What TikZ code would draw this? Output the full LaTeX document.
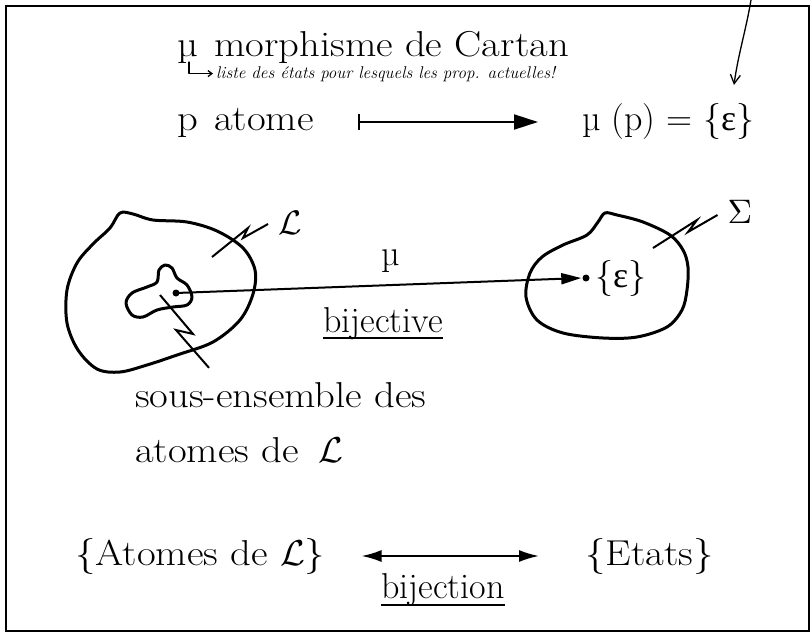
\documentclass[tikz,border=0pt]{standalone}
\usepackage{fontspec}
\setmainfont{Latin Modern Roman}
\newfontfamily\widefont{Latin Modern Roman}[FakeStretch=1.13]
\newfontfamily\gkfont{Liberation Serif}
\DeclareFontShape{OMS}{cmsy}{m}{n}{<-> cmsy10}{}
\DeclareFontShape{OT1}{cmr}{m}{n}{<-> cmr10}{}
\DeclareFontShape{OML}{cmm}{m}{it}{<-> cmmi10}{}
\usetikzlibrary{arrows.meta}
\begin{document}
\begin{tikzpicture}[x=1pt,y=-1pt,
  txt/.style={inner sep=0pt, anchor=base west, font=\fontsize{36}{40}\selectfont\widefont},
  txtp/.style={inner sep=0pt, anchor=base west, font=\fontsize{36}{40}\selectfont},
  lbl/.style={inner sep=0pt, anchor=center, font=\fontsize{34}{38}\selectfont},
  hand/.style={line width=1.3pt, line cap=round, line join=round},
  blob/.style={line width=3pt, line join=round},
  zig/.style={line width=2pt, line join=miter},
  ar/.style={line width=2pt},
  dotn/.style={circle, fill=black, inner sep=0pt, minimum size=7pt},
  uline/.style={line width=1.3pt}]
\useasboundingbox (0,0) rectangle (812,634);
% frame
\draw[line width=2.6pt] (6,6) rectangle (809,631);

% top lines
\node[txt] (cartan) at (177,57) {µ\hspace{0.45em}morphisme de Cartan};
\node[txtp, font=\fontsize{17}{19}\selectfont\itshape] (note) at (216,78)
  {liste des états pour lesquels les prop. actuelles!};
\coordinate (brk) at (189,62);
\draw[hand, -{Straight Barb[length=4pt,width=6pt]}] (brk) |- ([xshift=-3pt]note.west);

\node[txt] (p) at (177,130) {p\hspace{0.45em}atome};
\node[txtp] (mup) at (582,130) {µ (p) = \{{\gkfont ε}\}};
\draw[ar, {Bar[width=15pt]}-{Triangle[length=24pt,width=15pt]}]
  ([shift={(44,-8)}]p.base east) -- ([shift={(-44,-8)}]mup.base west);

\coordinate (topin) at (751,0);
\coordinate (toptip) at (734,85);
\draw[hand, -{Straight Barb[length=9pt,width=10pt]}] (topin) .. controls (746,30) and (738,55) .. (toptip);

% left blob
\draw[blob] plot[smooth cycle, tension=0.55] coordinates {
  (120,213) (133,214) (153,220) (187,222) (217,231) (243,248) (255,270)
  (253,294) (240,320) (213,342) (177,355) (147,365) (120,372) (97,369)
  (78,350) (67,323) (67,290) (77,263) (93,244) (110,228)};
% inner blob
\draw[blob] plot[smooth cycle, tension=0.55] coordinates {
  (126,303) (132,293) (147,287) (157,282) (159,270) (165,265) (172,268)
  (177,278) (187,285) (192,297) (187,305) (173,307) (157,310) (143,317)
  (132,315)};
\node[dotn] (d1) at (176,293) {};

% right blob
\draw[blob] plot[smooth cycle, tension=0.55] coordinates {
  (605,213) (617,215) (643,222) (670,235) (683,250) (688,267) (687,290)
  (682,310) (667,327) (637,337) (603,338) (563,333) (537,320) (526,297)
  (530,273) (542,257) (563,245) (587,235) (598,222)};
\node[dotn] (d2) at (586,278) {};
\node[txtp] (eps) at (595,287) {\{{\gkfont ε}\}};

% mu arrow
\draw[ar, -{Triangle[length=20pt,width=11pt]}, shorten >=1pt] (d1.center) -- (d2.west);
\node[txtp] (mulab) at (381,265) {µ};
\node[txtp] (bij) at (323,332) {bijective};
\draw[uline] ([yshift=-6pt]bij.base west) -- ([yshift=-6pt]bij.base east);

% labels with lightning connectors
\node[lbl] (Llab) at (290,223) {$\mathcal{L}$};
\draw[zig] (212,257) -- (248,228) -- (243,238) -- ([xshift=-10pt,yshift=-1pt]Llab.west);
\node[lbl] (Slab) at (740,212) {$\Sigma$};
\draw[zig] (653,248) -- (697,220) -- (688,232) -- ([xshift=-10pt,yshift=-3pt]Slab.west);

\node[txt] (sous) at (135,407) {sous-ensemble des};
\node[txt] (atL) at (135,462) {atomes de\hspace{0.55em}$\mathcal{L}$};
\draw[zig] (160,295) -- (193,334) -- (176,330) -- ([xshift=74pt,yshift=14pt]sous.north west);

% bottom
\node[txt] (atomes) at (75,565) {\{Atomes de $\mathcal{L}$\}};
\node[txt] (etats) at (585,565) {\{Etats\}};
\draw[ar, {Latex[length=20pt,width=12pt]}-{Latex[length=20pt,width=12pt]}]
  ([shift={(36,-9)}]atomes.base east) -- ([shift={(-46,-9)}]etats.base west);
\node[txtp] (bjn) at (381,598) {bijection};
\draw[uline] ([yshift=-7pt]bjn.base west) -- ([yshift=-7pt]bjn.base east);
\end{tikzpicture}
\end{document}
